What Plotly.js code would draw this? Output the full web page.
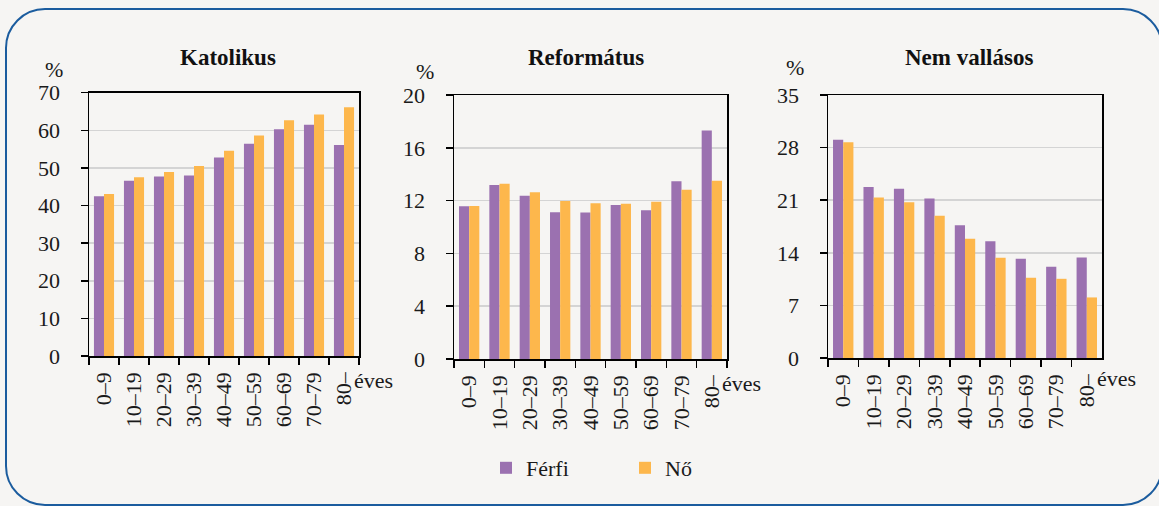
<!DOCTYPE html>
<html>
<head>
<meta charset="utf-8">
<script src="https://cdn.plot.ly/plotly-3.0.1.min.js"></script>
<style>
  html, body { margin:0; padding:0; background:#f6f5f3; }
  #wrap { position:relative; width:1159px; height:506px; overflow:hidden; background:#f6f5f3; }
  #frame { position:absolute; left:5px; top:8px; width:1158px; height:498px; border:2px solid #1b5c9e; border-radius:40px; box-sizing:border-box; }
  #chart { position:absolute; left:0; top:0; width:1159px; height:506px; }
</style>
</head>
<body>
<div id="wrap">
  <div id="frame"></div>
  <div id="chart"></div>
</div>
<script>
const categories = ["0–9", "10–19", "20–29", "30–39", "40–49", "50–59", "60–69", "70–79", "80–"];
const seriesNames = ["Férfi", "Nő"];
const panelTitles = ["Katolikus", "Református", "Nem vallásos"];

const katolikusFerfi = [42.5, 46.6, 47.7, 48.0, 52.8, 56.4, 60.3, 61.5, 56.1];
const katolikusNo    = [43.1, 47.5, 48.9, 50.5, 54.6, 58.6, 62.7, 64.2, 66.1];
const reformatusFerfi = [11.57, 13.18, 12.37, 11.11, 11.09, 11.67, 11.26, 13.46, 17.32];
const reformatusNo    = [11.60, 13.28, 12.63, 11.97, 11.79, 11.77, 11.92, 12.83, 13.51];
const nemVallasosFerfi = [29.06, 22.77, 22.51, 21.22, 17.68, 15.55, 13.20, 12.14, 13.38];
const nemVallasosNo    = [28.71, 21.36, 20.74, 18.92, 15.86, 13.34, 10.68, 10.54, 8.06];

const yMax = [70, 20, 35];
const yStep = [10, 4, 7];

const colFerfi = "#9b71b0";
const colNo = "#fdb74c";

const W = 1159, H = 506;
const px = v => v / W;
const py = v => (H - v) / H;

const panels = [
  { f: katolikusFerfi, n: katolikusNo, x0: 89, x1: 359, y0: 92.7, y1: 356, tc: 228, pc: 54, pt: 70, ex: 352, ey: 380 },
  { f: reformatusFerfi, n: reformatusNo, x0: 454, x1: 727, y0: 95, y1: 359, tc: 586, pc: 425, pt: 72, ex: 720, ey: 383 },
  { f: nemVallasosFerfi, n: nemVallasosNo, x0: 828, x1: 1102, y0: 95, y1: 358, tc: 969, pc: 795, pt: 67, ex: 1095, ey: 378 }
];

const FONT = "Liberation Serif";
const FS = 22;
const traces = [];
const layout = {
  width: W, height: H,
  margin: { l: 0, r: 0, t: 0, b: 0 },
  paper_bgcolor: "rgba(0,0,0,0)",
  plot_bgcolor: "rgba(0,0,0,0)",
  font: { family: FONT, size: FS, color: "#1a1a1a" },
  barmode: "group",
  bargap: 0.33,
  bargroupgap: 0,
  showlegend: true,
  legend: {
    orientation: "h",
    x: px(486), xanchor: "left",
    y: py(468), yanchor: "middle",
    entrywidth: 94, entrywidthmode: "pixels",
    font: { family: FONT, size: FS, color: "#1a1a1a" },
    bgcolor: "rgba(0,0,0,0)"
  },
  annotations: [],
  shapes: []
};

panels.forEach((p, i) => {
  const sfx = i === 0 ? "" : String(i + 1);
  const xa = "x" + sfx, ya = "y" + sfx;
  traces.push({
    type: "bar", x: categories, y: p.f, name: seriesNames[0],
    marker: { color: colFerfi }, xaxis: xa, yaxis: ya,
    showlegend: i === 0, legendgroup: "f"
  });
  traces.push({
    type: "bar", x: categories, y: p.n, name: seriesNames[1],
    marker: { color: colNo }, xaxis: xa, yaxis: ya,
    showlegend: i === 0, legendgroup: "n"
  });
  const tickvals = [];
  for (let v = 0; v <= yMax[i]; v += yStep[i]) tickvals.push(v);
  layout["xaxis" + sfx] = {
    domain: [px(p.x0), px(p.x1)],
    anchor: ya,
    type: "category",
    tickangle: -90,
    ticks: "outside", ticklen: 7, tickwidth: 1.5, tickcolor: "#000",
    tickson: "boundaries",
    ticklabelstandoff: 6,
    showline: true, linecolor: "#000", linewidth: 1.5, mirror: true,
    showgrid: false, zeroline: false,
    tickfont: { family: FONT, size: FS, color: "#1a1a1a" },
    automargin: false,
    fixedrange: true
  };
  layout["yaxis" + sfx] = {
    domain: [py(p.y1), py(p.y0)],
    anchor: xa,
    range: [0, yMax[i]],
    tickvals: tickvals,
    ticks: "outside", ticklen: 7, tickwidth: 1.5, tickcolor: "#000",
    ticklabelstandoff: 16,
    showline: true, linecolor: "#000", linewidth: 1.5, mirror: true,
    showgrid: true, gridcolor: "#d4d4d4", gridwidth: 1.5,
    zeroline: false,
    tickfont: { family: FONT, size: FS, color: "#1a1a1a" },
    automargin: false,
    fixedrange: true
  };
  layout.annotations.push({
    text: "<b>" + panelTitles[i] + "</b>", xref: "paper", yref: "paper",
    x: px(p.tc), y: py(57), xanchor: "center", yanchor: "middle",
    showarrow: false, font: { family: FONT, size: 23, color: "#111" }
  });
  layout.annotations.push({
    text: "%", xref: "paper", yref: "paper",
    x: px(p.pc), y: py(p.pt), xanchor: "center", yanchor: "middle",
    showarrow: false, font: { family: FONT, size: FS, color: "#1a1a1a" }
  });
  layout.annotations.push({
    text: "éves", xref: "paper", yref: "paper",
    x: px(p.ex), y: py(p.ey), xanchor: "left", yanchor: "middle",
    showarrow: false, font: { family: FONT, size: FS, color: "#1a1a1a" }
  });
});

Plotly.newPlot("chart", traces, layout, { displayModeBar: false, staticPlot: true });
</script>
</body>
</html>
